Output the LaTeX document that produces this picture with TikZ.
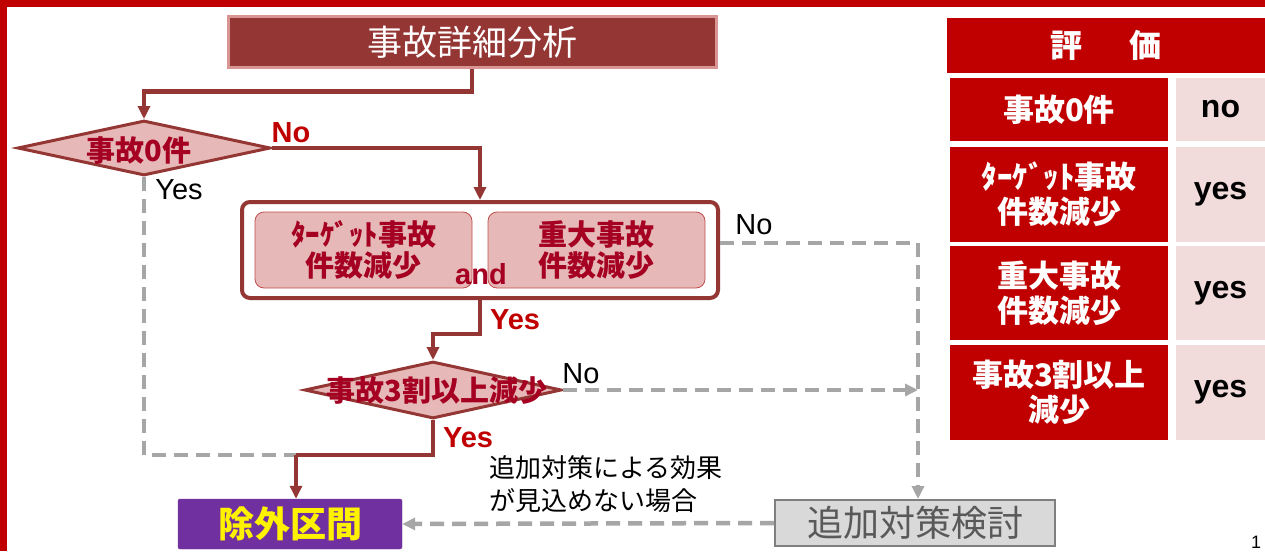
\documentclass[tikz,border=0pt]{standalone}
\usepackage{fontspec}
\setmainfont{Liberation Sans}
\newfontfamily\jp{Noto Sans CJK JP}
\usetikzlibrary{arrows.meta,shapes.geometric}
\definecolor{frame}{HTML}{C00000}
\definecolor{brn}{HTML}{943634}
\definecolor{brnlight}{HTML}{D99594}
\definecolor{pinkfill}{HTML}{E6B8B7}
\definecolor{pinkedge}{HTML}{C0504D}
\definecolor{dred}{HTML}{A50021}
\definecolor{lbl}{HTML}{C00000}
\definecolor{dash}{HTML}{A6A6A6}
\definecolor{purp}{HTML}{7030A0}
\definecolor{gfill}{HTML}{D9D9D9}
\definecolor{gedge}{HTML}{7F7F7F}
\definecolor{gtext}{HTML}{595959}
\definecolor{tpink}{HTML}{F2DCDB}
\tikzset{
  mainln/.style={draw=brn, line width=4.5pt},
  mainarr/.style={mainln, -{Triangle[length=13pt,width=12pt]}},
  dashln/.style={draw=dash, line width=4.5pt, dash pattern=on 14pt off 8pt},
  dasharr/.style={dashln, -{Triangle[length=13pt,width=12pt]}},
  titlebox/.style={fill=brn, draw=brnlight, line width=3pt, text=white, minimum width=488pt, minimum height=50pt, inner sep=0pt, font=\jp\fontsize{35}{37}\selectfont},
  dia/.style={diamond, draw=brn, fill=pinkfill, line width=3pt, inner sep=0pt},
  diatext/.style={text=dred, font=\jp\bfseries\fontsize{29}{31}\selectfont, inner sep=0pt},
  outerbox/.style={draw=brn, fill=white, line width=4pt, rounded corners=8pt, minimum width=476pt, minimum height=96pt, inner sep=0pt},
  innerbox/.style={draw=pinkedge, fill=pinkfill, line width=0.8pt, rounded corners=9pt, minimum width=217pt, minimum height=76pt, inner sep=0pt, text=dred, align=center, font=\jp\bfseries\fontsize{29}{31}\selectfont},
  redlbl/.style={text=lbl, font=\bfseries\fontsize{29}{31}\selectfont, inner sep=0pt},
  blklbl/.style={text=black, font=\fontsize{29}{31}\selectfont, inner sep=0pt},
  exbox/.style={fill=purp, draw=purp, rounded corners=2pt, minimum width=224pt, minimum height=50pt, inner sep=0pt, text=yellow, font=\jp\bfseries\fontsize{36}{38}\selectfont},
  addbox/.style={fill=gfill, draw=gedge, line width=2pt, minimum width=280pt, minimum height=46pt, inner sep=0pt, text=gtext, font=\jp\fontsize{36}{38}\selectfont},
  thead/.style={fill=frame, minimum width=318pt, minimum height=55pt, inner sep=0pt, text=white, font=\jp\bfseries\fontsize{32}{34}\selectfont},
  tleft/.style={fill=frame, minimum width=218pt, inner sep=0pt, text=white, align=center, font=\jp\bfseries\fontsize{31}{35}\selectfont},
  tright/.style={fill=tpink, minimum width=89pt, inner sep=0pt, text=black, font=\bfseries\fontsize{32}{34}\selectfont},
}
\begin{document}
\begin{tikzpicture}[x=1pt,y=-1pt]
\useasboundingbox (0,0) rectangle (1265,551);
\fill[white] (0,0) rectangle (1265,551);
\fill[frame] (0,0) rectangle (1265,7);
\fill[frame] (0,0) rectangle (7,551);

% nodes
\node[titlebox] (title) at (472,42) {事故詳細分析};
\node[dia, minimum width=253pt, minimum height=55pt] (d1) at (144,148) {};
\node[diatext] (d1t) at (139,151) {事故0件};
\node[outerbox] (outer) at (480,250) {};
\node[innerbox] (tg) at (363.5,250) {ﾀｰｹﾞｯﾄ事故\\件数減少};
\node[innerbox] (jd) at (596.5,250) {重大事故\\件数減少};
\node[text=dred, font=\bfseries\fontsize{29}{31}\selectfont, inner sep=0pt] (and) at (481,274) {and};
\node[dia, minimum width=257pt, minimum height=57pt] (d2) at (433,390) {};
\node[diatext] (d2t) at (437,391) {事故3割以上減少};
\node[exbox] (ex) at (290,524) {除外区間};
\node[addbox] (add) at (915,523) {追加対策検討};
\node[align=left, inner sep=0pt, font=\jp\fontsize{26}{33}\selectfont, anchor=north west] (note) at (489,455) {追加対策による効果\\が見込めない場合};

% labels
\node[redlbl] (no1) at (291,133) {No};
\node[blklbl] (yes1) at (179,190) {Yes};
\node[blklbl] (no2) at (754,225) {No};
\node[redlbl] (yes2) at (515,320) {Yes};
\node[blklbl] (no3) at (581,374) {No};
\node[redlbl] (yes3) at (468,438) {Yes};

% coordinates
\coordinate (j) at (296,455);
\coordinate (vx) at (918,0);

% gray dashed connectors
\draw[dashln] (d1.south) |- (j);
\draw[dasharr] ([yshift=7pt]outer.east) -| (vx |- add.north);
\draw[dasharr] (d2.east) -- (d2.east -| vx);
\draw[dasharr] (add.west) -- (ex.east);

% main connectors
\draw[mainarr] (title.south) -- ++(0,23) -| (d1.north);
\draw[mainarr] (d1.east) -| (outer.north);
\draw[mainarr] (outer.south) -- ++(0,34) -| (d2.north);
\draw[mainln] (d2.south) |- (j);
\draw[mainarr] (j) -- (j |- ex.north);

% table
\node[thead] (th) at (1106,45.5) {評\hspace{1.45em}価};
\node[tleft, minimum height=63pt] (r1l) at (1059,109.5) {事故0件};
\node[tright, minimum height=63pt] (r1r) at (1220.5,109.5) {no};
\node[tleft, minimum height=95pt] (r2l) at (1059,194.5) {ﾀｰｹﾞｯﾄ事故\\件数減少};
\node[tright, minimum height=95pt] (r2r) at (1220.5,194.5) {yes};
\node[tleft, minimum height=94pt] (r3l) at (1059,293) {重大事故\\件数減少};
\node[tright, minimum height=94pt] (r3r) at (1220.5,293) {yes};
\node[tleft, minimum height=95pt] (r4l) at (1059,392.5) {事故3割以上\\減少};
\node[tright, minimum height=95pt] (r4r) at (1220.5,392.5) {yes};

\node[font=\fontsize{18}{20}\selectfont, inner sep=0pt, anchor=south] (pg) at (1256,549) {1};
\end{tikzpicture}
\end{document}
